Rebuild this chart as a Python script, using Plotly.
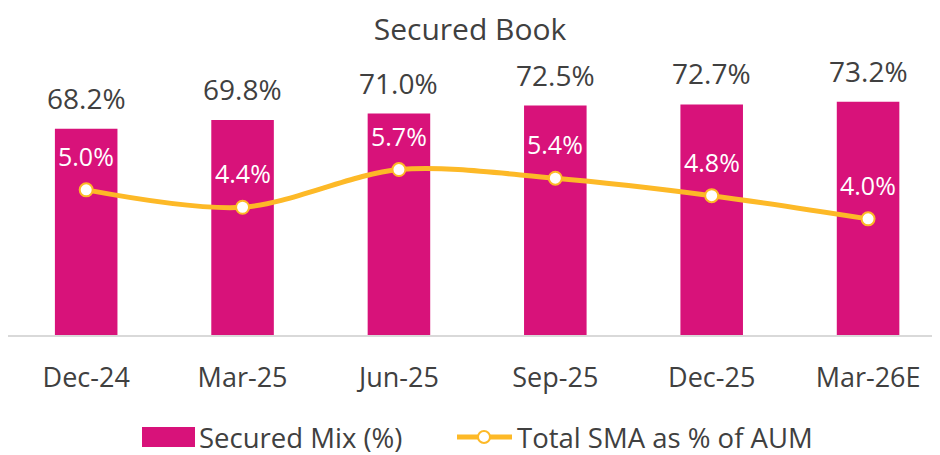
import plotly.graph_objects as go

categories = ["Dec-24", "Mar-25", "Jun-25", "Sep-25", "Dec-25", "Mar-26E"]
secured_mix = [68.2, 69.8, 71.0, 72.5, 72.7, 73.2]
sma_pct = [5.0, 4.4, 5.7, 5.4, 4.8, 4.0]
bar_labels = [f"{v:.1f}%" for v in secured_mix]
line_labels = [f"{v:.1f}%" for v in sma_pct]

MAGENTA = "#D8127A"
YELLOW = "#FDB927"
DARK = "#404040"
FONT = "Open Sans"

W, H = 940, 455
# page body has an 8px offset; plot area on screen: x 8..940, y 65..335
ML, MR, MT, MB = 0, 8, 57, 128
PW, PH = W - ML - MR, H - MT - MB

fig = go.Figure()
fig.add_trace(go.Bar(
    x=categories, y=secured_mix, name="Secured Mix (%)",
    marker=dict(color=MAGENTA, line=dict(width=0)), width=0.4,
    showlegend=False, hoverinfo="skip",
))
fig.add_trace(go.Scatter(
    x=categories, y=sma_pct, name="Total SMA as % of AUM", yaxis="y2",
    mode="lines+markers",
    line=dict(color=YELLOW, width=5, shape="spline", smoothing=0.9),
    marker=dict(size=13, color="white", line=dict(color=YELLOW, width=2)),
    showlegend=False, hoverinfo="skip",
))

annotations = []
for c, v, t in zip(categories, secured_mix, bar_labels):
    annotations.append(dict(x=c, y=v, xref="x", yref="y", text=t, showarrow=False,
                            yanchor="middle", yshift=31,
                            font=dict(family=FONT, size=28, color=DARK)))
for c, v, t in zip(categories, sma_pct, line_labels):
    annotations.append(dict(x=c, y=v, xref="x", yref="y2", text=t, showarrow=False,
                            yanchor="middle", yshift=34,
                            font=dict(family=FONT, size=25, color="white")))

# custom legend (screen pixel -> paper coordinates)
def px(x):
    return (x - 8 - ML) / PW
def py(y):
    return ((H - MB) - (y - 8)) / PH

LEG_Y = 437
shapes = [
    dict(type="rect", xref="paper", yref="paper", x0=px(142), x1=px(195), y0=py(LEG_Y + 10), y1=py(LEG_Y - 10),
         fillcolor=MAGENTA, line=dict(width=0), layer="above"),
    dict(type="line", xref="paper", yref="paper", x0=px(457), x1=px(512), y0=py(LEG_Y), y1=py(LEG_Y),
         line=dict(color=YELLOW, width=5), layer="above"),
    dict(type="circle", xref="paper", yref="paper", x0=px(478), x1=px(490), y0=py(LEG_Y + 6), y1=py(LEG_Y - 6),
         fillcolor="white", line=dict(color=YELLOW, width=2), layer="above"),
]
annotations.append(dict(x=px(197), y=py(LEG_Y), xref="paper", yref="paper", text="Secured Mix (%)",
                        showarrow=False, xanchor="left", yanchor="middle",
                        font=dict(family=FONT, size=27.5, color=DARK)))
annotations.append(dict(x=px(515), y=py(LEG_Y), xref="paper", yref="paper", text="Total SMA as % of AUM",
                        showarrow=False, xanchor="left", yanchor="middle",
                        font=dict(family=FONT, size=27.5, color=DARK)))

fig.update_layout(
    width=W, height=H,
    margin=dict(l=ML, r=MR, t=MT, b=MB),
    paper_bgcolor="white", plot_bgcolor="white",
    title=dict(text="Secured Book", x=(470 - 8) / W, xanchor="center", y=1 - 21 / H, yanchor="middle",
               font=dict(family=FONT, size=30, color=DARK)),
    font=dict(family=FONT, color=DARK),
    xaxis=dict(range=[-0.5, 5.46], showgrid=False, zeroline=False,
               showline=True, linecolor="#D9D9D9", linewidth=2,
               ticks="", tickfont=dict(family=FONT, size=27, color=DARK),
               ticklabelstandoff=18),
    yaxis=dict(range=[30, 80], visible=False, showgrid=False, zeroline=False),
    yaxis2=dict(range=[0, 9.3], overlaying="y", side="right", visible=False,
                showgrid=False, zeroline=False),
    showlegend=False,
    annotations=annotations,
    shapes=shapes,
)

fig.write_html("out.html")
